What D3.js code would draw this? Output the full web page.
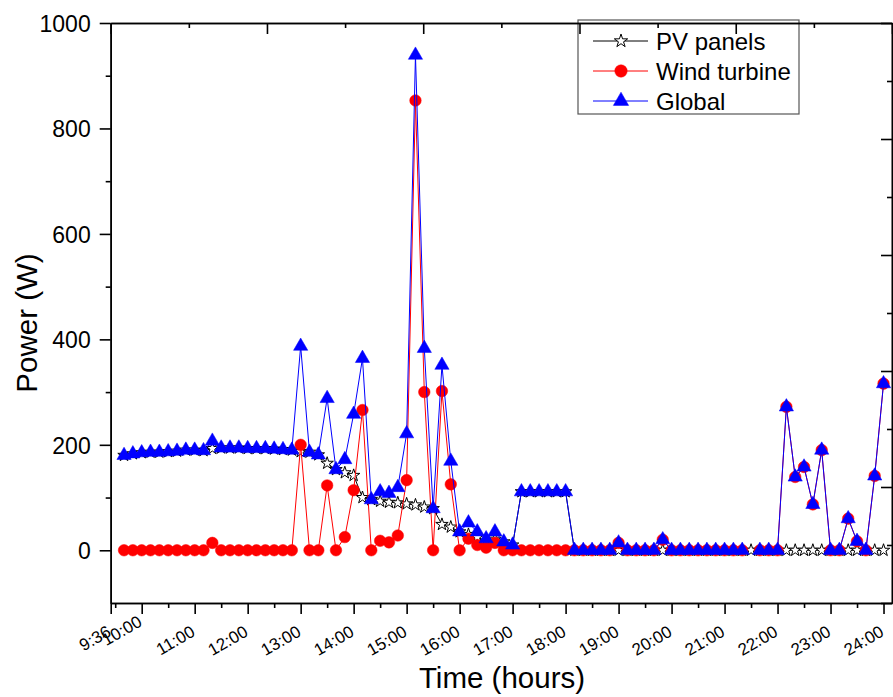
<!DOCTYPE html>
<html>
<head>
<meta charset="utf-8">
<script src="https://cdn.jsdelivr.net/npm/d3@7"></script>
<style>
  body { margin: 0; background: #fff; }
  svg text { font-family: "Liberation Sans", Arial, sans-serif; fill: #000; }
</style>
</head>
<body>
<div id="chart"></div>
<script>
// sample times (10 min steps)
const times = [
  "9:40","9:50",
  "10:00","10:10","10:20","10:30","10:40","10:50",
  "11:00","11:10","11:20","11:30","11:40","11:50",
  "12:00","12:10","12:20","12:30","12:40","12:50",
  "13:00","13:10","13:20","13:30","13:40","13:50",
  "14:00","14:10","14:20","14:30","14:40","14:50",
  "15:00","15:10","15:20","15:30","15:40","15:50",
  "16:00","16:10","16:20","16:30","16:40","16:50",
  "17:00","17:10","17:20","17:30","17:40","17:50",
  "18:00","18:10","18:20","18:30","18:40","18:50",
  "19:00","19:10","19:20","19:30","19:40","19:50",
  "20:00","20:10","20:20","20:30","20:40","20:50",
  "21:00","21:10","21:20","21:30","21:40","21:50",
  "22:00","22:10","22:20","22:30","22:40","22:50",
  "23:00","23:10","23:20","23:30","23:40","23:50",
  "24:00"
];

const pvPower = [
  180,183,185,186,186,187,188,190,190,189,
  193,194,194,194,193,193,193,192,191,190,
  187,186,181,165,153,147,142,100,96,93,
  91,90,88,86,82,79,49,44,35,30,
  25,17,21,16,10,111,111,111,111,111,
  111,0,0,0,0,0,0,0,0,0,
  0,0,0,0,0,0,0,0,0,0,
  0,0,0,0,0,0,0,0,0,0,
  0,0,0,0,0,0,0
];

const windPower = [
  0,0,0,0,0,0,0,0,0,0,
  14,0,0,0,0,0,0,0,0,0,
  200,0,0,123,0,25,114,266,0,18,
  15,28,133,853,300,0,302,125,0,22,
  10,5,14,0,0,0,0,0,0,0,
  0,0,0,0,0,0,14,0,0,0,
  0,20,0,0,0,0,0,0,0,0,
  0,null,0,0,0,272,139,158,87,190,
  0,0,60,17,0,141,316
];

const globalPower = [
  180,183,185,186,186,187,188,190,190,189,
  207,194,194,194,193,193,193,192,191,190,
  387,186,181,288,153,172,258,364,96,111,
  108,119,221,939,383,79,351,169,35,52,
  35,22,35,16,10,111,111,111,111,111,
  111,0,0,0,0,0,14,0,0,0,
  0,20,0,0,0,0,0,0,0,0,
  0,null,0,0,0,272,139,158,87,190,
  0,0,60,17,0,141,316
];

const seriesNames = ["PV panels", "Wind turbine", "Global"];

// axis ticks
const xMajorTicks = [9.415, 10, 11, 12, 13, 14, 15, 16, 17, 18, 19, 20, 21, 22, 23, 24];
const xMinorTicks = [9.5, 10.5, 11.5, 12.5, 13.5, 14.5, 15.5, 16.5, 17.5, 18.5, 19.5, 20.5, 21.5, 22.5, 23.5];
const yMajorTicks = [0, 200, 400, 600, 800, 1000];
const yMinorTicks = [100, 300, 500, 700, 900];

const width = 893, height = 697;
const plotLeft = 110.7, plotRight = 892, plotTop = 23, plotBottom = 603;
const fontFamily = '"Liberation Sans", Arial, sans-serif';

const svg = d3.select("#chart")
  .append("svg")
    .attr("width", width)
    .attr("height", height);

const hours = times.map(t => {
  const p = t.split(":");
  return +p[0] + (+p[1]) / 60;
});

const x = d3.scaleLinear().domain([9.415, 24.16]).range([plotLeft, plotRight]);
const y = d3.scaleLinear().domain([-100, 1000]).range([plotBottom, plotTop]);

// top / right frame axes (own scales, ticks only)
const xTop = d3.scaleLinear().domain([0, 100]).range([plotLeft, plotRight]);
const yRight = d3.scaleLinear().domain([0, 100]).range([plotBottom, plotTop]);

function styleAxis(g) {
  g.select(".domain").attr("stroke-width", 1.6);
  g.selectAll(".tick line").attr("stroke-width", 1.6);
}

// legend box drawn first so the frame sits over it
const legend = svg.append("g");
legend.append("rect")
  .attr("x", 578).attr("y", 20)
  .attr("width", 221).attr("height", 94)
  .attr("fill", "none")
  .attr("stroke", "#555")
  .attr("stroke-width", 1.2);

// bottom axis
svg.append("g")
  .attr("transform", "translate(0," + plotBottom + ")")
  .call(d3.axisBottom(x).tickValues(xMinorTicks).tickSize(5).tickSizeOuter(0).tickFormat(""))
  .call(styleAxis);

const xAxis = svg.append("g")
  .attr("transform", "translate(0," + plotBottom + ")")
  .call(d3.axisBottom(x).tickValues(xMajorTicks).tickSize(11).tickSizeOuter(0)
    .tickFormat((d, i) => i === 0 ? "9:36" : d + ":00"))
  .call(styleAxis);

// 10:00 sits a bit higher so it clears the 9:36 label
xAxis.selectAll(".tick text")
  .attr("y", 0).attr("dy", 0)
  .attr("text-anchor", "end")
  .style("font-family", fontFamily)
  .style("font-size", "17px")
  .attr("transform", (d, i) => i === 1 ? "translate(1,22) rotate(-30)" : "translate(1,32) rotate(-30)");

// left axis
svg.append("g")
  .attr("transform", "translate(" + plotLeft + ",0)")
  .call(d3.axisLeft(y).tickValues(yMinorTicks).tickSize(5).tickSizeOuter(0).tickFormat(""))
  .call(styleAxis);

const yAxis = svg.append("g")
  .attr("transform", "translate(" + plotLeft + ",0)")
  .call(d3.axisLeft(y).tickValues(yMajorTicks).tickSize(11).tickSizeOuter(0).tickFormat(d3.format("d")))
  .call(styleAxis);

yAxis.selectAll(".tick text")
  .attr("x", -20)
  .attr("dy", "0.36em")
  .style("font-family", fontFamily)
  .style("font-size", "23px");

// top axis, ticks pointing in
svg.append("g")
  .attr("transform", "translate(0," + plotTop + ")")
  .call(d3.axisBottom(xTop).tickValues([10, 30, 50, 70, 90]).tickSize(5).tickSizeOuter(0).tickFormat(""))
  .call(styleAxis);
svg.append("g")
  .attr("transform", "translate(0," + plotTop + ")")
  .call(d3.axisBottom(xTop).tickValues([0, 20, 40, 60, 80, 100]).tickSize(11).tickSizeOuter(0).tickFormat(""))
  .call(styleAxis);

// right axis, ticks pointing in
svg.append("g")
  .attr("transform", "translate(" + plotRight + ",0)")
  .call(d3.axisLeft(yRight).tickValues([10, 30, 50, 70, 90]).tickSize(5).tickSizeOuter(0).tickFormat(""))
  .call(styleAxis);
svg.append("g")
  .attr("transform", "translate(" + plotRight + ",0)")
  .call(d3.axisLeft(yRight).tickValues([0, 20, 40, 60, 80, 100]).tickSize(11).tickSizeOuter(0).tickFormat(""))
  .call(styleAxis);

// axis titles
svg.append("text")
  .attr("x", 502).attr("y", 688)
  .attr("text-anchor", "middle")
  .style("font-family", fontFamily)
  .style("font-size", "29.5px")
  .text("Time (hours)");

svg.append("text")
  .attr("transform", "translate(37,323) rotate(-90)")
  .attr("text-anchor", "middle")
  .style("font-family", fontFamily)
  .style("font-size", "29.5px")
  .text("Power (W)");

// series
const series = [
  {name: seriesNames[0], values: pvPower, color: "#000", symbol: d3.symbolStar, size: 48, fill: "#fff"},
  {name: seriesNames[1], values: windPower, color: "#ff0000", symbol: d3.symbolCircle, size: 105, fill: "#ff0000"},
  {name: seriesNames[2], values: globalPower, color: "#0000ff", symbol: d3.symbolTriangle, size: 88, fill: "#0000ff"}
];

const line = d3.line()
  .defined(d => d.v !== null)
  .x(d => x(d.t))
  .y(d => y(d.v));

series.forEach(s => {
  const pts = hours.map((t, i) => ({t: t, v: s.values[i]}));
  const g = svg.append("g");
  g.append("path")
    .datum(pts)
    .attr("fill", "none")
    .attr("stroke", s.color)
    .attr("stroke-width", 1)
    .attr("d", line);
  g.selectAll("path.pt")
    .data(pts.filter(d => d.v !== null))
    .enter()
    .append("path")
      .attr("class", "pt")
      .attr("transform", d => "translate(" + x(d.t) + "," + y(d.v) + ")")
      .attr("d", d3.symbol().type(s.symbol).size(s.size))
      .attr("fill", s.fill)
      .attr("stroke", s.color)
      .attr("stroke-width", s.symbol === d3.symbolStar ? 1 : 0.5);
});

// legend entries
series.forEach((s, i) => {
  const ly = 41 + i * 30;
  legend.append("line")
    .attr("x1", 593).attr("x2", 648)
    .attr("y1", ly).attr("y2", ly)
    .attr("stroke", s.color)
    .attr("stroke-width", 1);
  legend.append("path")
    .attr("transform", "translate(621," + ly + ")")
    .attr("d", d3.symbol().type(s.symbol).size(s.size * 1.15))
    .attr("fill", s.fill)
    .attr("stroke", s.color)
    .attr("stroke-width", s.symbol === d3.symbolStar ? 1 : 0.5);
  legend.append("text")
    .attr("x", 656).attr("y", ly + 8.5)
    .style("font-family", fontFamily)
    .style("font-size", "24px")
    .text(s.name);
});
</script>
</body>
</html>
